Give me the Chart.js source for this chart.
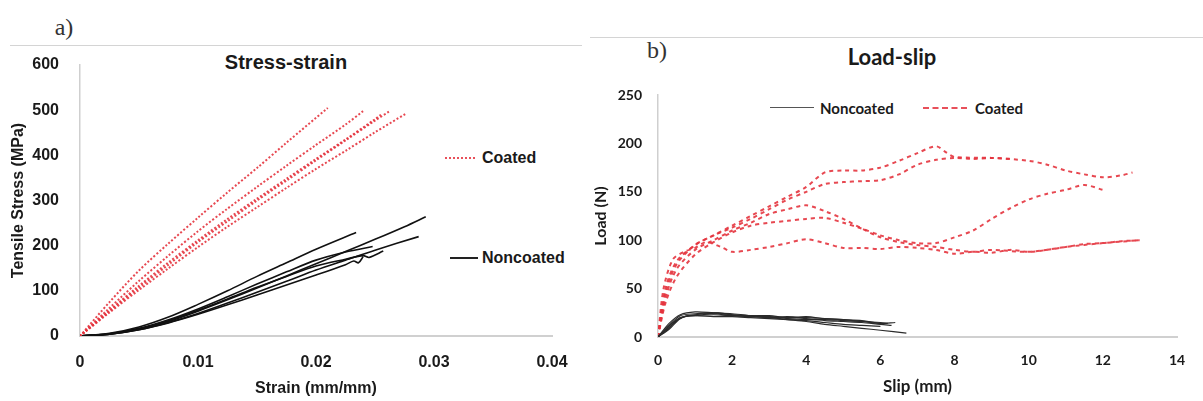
<!DOCTYPE html>
<html>
<head>
<meta charset="utf-8">
<script src="https://cdn.jsdelivr.net/npm/chart.js@4.4.0/dist/chart.umd.min.js"></script>
<style>
  body { margin: 0; background: #fff; width: 1203px; height: 401px; position: relative; overflow: hidden; }
  canvas { position: absolute; top: 0; }
  #stressCanvas { left: 0; }
  #slipCanvas { left: 590px; }
  .txt { position: absolute; white-space: nowrap; color: #1a1a1a; line-height: 1; }
  .c { transform: translate(-50%, -50%); }
  .l { transform: translateY(-50%); }
  .panel { font-family: "Liberation Serif", serif; font-size: 24px; color: #333; }
  .arial { font-family: "Liberation Sans", Arial, sans-serif; font-weight: bold; }
  .lato { font-family: Lato, sans-serif; font-weight: bold; }
  .rule { position: absolute; height: 1px; background: #d4d4d4; }
  .sample { position: absolute; height: 0; }
</style>
</head>
<body>
<div class="rule" style="left:10px; top:45px; width:572px;"></div>
<div class="rule" style="left:590px; top:37px; width:613px;"></div>

<div class="txt c panel" style="left:64px; top:27px;">a)</div>
<div class="txt c panel" style="left:657px; top:50px;">b)</div>

<div class="txt c arial" style="left:286px; top:62px; font-size:20px;">Stress-strain</div>
<div class="txt c lato" style="left:892px; top:57px; font-size:22px;">Load-slip</div>

<!-- legend, stress-strain -->
<div class="sample" style="left:445px; top:157px; width:30px; border-top:2px dotted #e8505a;"></div>
<div class="txt l arial" style="left:482px; top:158px; font-size:16px;">Coated</div>
<div class="sample" style="left:450px; top:257px; width:28px; border-top:2px solid #222;"></div>
<div class="txt l arial" style="left:482px; top:258px; font-size:16px;">Noncoated</div>

<!-- legend, load-slip -->
<div class="sample" style="left:770px; top:107px; width:44px; border-top:1.5px solid #555;"></div>
<div class="txt l lato" style="left:820px; top:108px; font-size:15px;">Noncoated</div>
<div class="sample" style="left:923px; top:107px; width:44px; border-top:2px dashed #e8505a;"></div>
<div class="txt l lato" style="left:975px; top:108px; font-size:15px;">Coated</div>

<canvas id="stressCanvas" width="590" height="401"></canvas>
<canvas id="slipCanvas" width="613" height="401"></canvas>

<script>
// ---- stress-strain: coated specimens ----
const coatedStrain1 = [0, 0.0025, 0.005, 0.0075, 0.01, 0.0125, 0.015, 0.0175, 0.021];
const coatedStress1 = [0, 75, 145, 205, 262, 318, 372, 428, 505];
const coatedStrain2 = [0, 0.0025, 0.005, 0.0075, 0.01, 0.0125, 0.015, 0.0175, 0.02, 0.0225, 0.024];
const coatedStress2 = [0, 62, 122, 178, 232, 282, 330, 377, 423, 468, 498];
const coatedStrain3 = [0, 0.0025, 0.005, 0.0075, 0.01, 0.0125, 0.015, 0.0175, 0.02, 0.0225, 0.025, 0.0255];
const coatedStress3 = [0, 57, 111, 163, 212, 259, 304, 348, 392, 435, 480, 490];
const coatedStrain4 = [0, 0.0025, 0.005, 0.0075, 0.01, 0.0125, 0.015, 0.0175, 0.02, 0.0225, 0.025, 0.0262];
const coatedStress4 = [0, 55, 107, 158, 208, 254, 300, 344, 389, 433, 477, 497];
const coatedStrain5 = [0, 0.0025, 0.005, 0.0075, 0.01, 0.0125, 0.015, 0.0175, 0.02, 0.0225, 0.025, 0.0276];
const coatedStress5 = [0, 52, 102, 150, 197, 242, 285, 328, 370, 410, 451, 492];

// ---- stress-strain: noncoated specimens ----
const plainStrain1 = [0, 0.0025, 0.005, 0.0075, 0.01, 0.0125, 0.015, 0.0175, 0.02, 0.0225, 0.025, 0.0275, 0.0293];
const plainStress1 = [0, 4, 15, 32, 55, 80, 106, 133, 160, 187, 214, 242, 264];
const plainStrain2 = [0, 0.0025, 0.005, 0.0075, 0.01, 0.0125, 0.015, 0.0175, 0.02, 0.0234];
const plainStress2 = [0, 6, 20, 42, 70, 100, 132, 162, 192, 229];
const plainStrain3 = [0, 0.0025, 0.005, 0.0075, 0.01, 0.0125, 0.015, 0.0175, 0.02, 0.0225, 0.025, 0.0287];
const plainStress3 = [0, 4, 14, 30, 50, 73, 97, 121, 146, 168, 190, 220];
const plainStrain4 = [0, 0.0025, 0.005, 0.0075, 0.01, 0.0125, 0.015, 0.0175, 0.02, 0.0225, 0.0232, 0.0236, 0.024];
const plainStress4 = [0, 4, 14, 29, 48, 69, 91, 113, 135, 158, 166, 162, 176];
const plainStrain5 = [0, 0.0025, 0.005, 0.0075, 0.01, 0.0125, 0.015, 0.0175, 0.02, 0.0225, 0.024, 0.0245, 0.0257];
const plainStress5 = [0, 5, 16, 34, 57, 82, 108, 132, 155, 170, 178, 174, 188];
const plainStrain6 = [0, 0.0025, 0.005, 0.0075, 0.01, 0.0125, 0.015, 0.0175, 0.02, 0.0225, 0.0248];
const plainStress6 = [0, 5, 17, 36, 60, 87, 115, 142, 168, 186, 198];

const strainTicks = [0, 0.01, 0.02, 0.03, 0.04];
const stressTicks = [0, 100, 200, 300, 400, 500, 600];

// ---- load-slip: coated specimens ----
const coatedSlip1 = [0, 0.2, 0.5, 1, 1.5, 2, 2.5, 3, 3.5, 4, 4.5, 5, 5.5, 6, 6.5, 7, 7.5, 7.8, 8, 9, 10, 10.5, 11, 11.5, 12, 12.5, 12.8];
const coatedLoad1 = [0, 45, 75, 95, 105, 115, 125, 135, 145, 155, 170, 172, 172, 175, 182, 190, 197, 190, 186, 185, 182, 178, 172, 168, 165, 167, 170];
const coatedSlip2 = [0, 0.2, 0.5, 1, 1.5, 2, 2.5, 3, 3.5, 4, 4.5, 5, 5.5, 6, 6.5, 7, 7.5, 8, 8.5, 9, 9.5];
const coatedLoad2 = [0, 50, 78, 95, 105, 113, 122, 132, 142, 150, 158, 160, 161, 162, 168, 178, 183, 185, 184, 185, 184];
const coatedSlip3 = [0, 0.2, 0.5, 1, 1.5, 2, 2.5, 3, 3.5, 4, 4.5, 5, 5.5, 6, 6.5, 7, 7.5, 8, 8.5, 9, 10, 11, 12, 13];
const coatedLoad3 = [0, 40, 70, 90, 100, 110, 118, 127, 132, 136, 130, 122, 112, 103, 98, 95, 93, 90, 88, 90, 88, 93, 97, 100];
const coatedSlip4 = [0, 0.2, 0.5, 1, 1.5, 2, 2.5, 3, 3.5, 4, 4.5, 5, 5.5, 6, 6.5, 7, 7.5, 8, 8.5, 9, 9.5, 10, 10.5, 11, 11.5, 12];
const coatedLoad4 = [0, 35, 62, 85, 98, 108, 115, 118, 120, 122, 123, 118, 112, 105, 100, 97, 97, 103, 110, 122, 133, 142, 148, 152, 157, 152];
const coatedSlip5 = [0, 0.15, 0.4, 0.7, 1, 1.3, 1.7, 2, 2.5, 3, 3.5, 4, 4.5, 5, 5.5, 6, 6.5, 7, 7.5, 8, 8.5, 9, 9.5, 10, 10.5, 11, 11.5, 12, 12.5, 13];
const coatedLoad5 = [0, 50, 80, 88, 92, 98, 93, 88, 90, 93, 97, 101, 97, 92, 92, 91, 93, 92, 90, 86, 88, 87, 90, 88, 90, 93, 96, 97, 99, 100];

// ---- load-slip: noncoated specimens ----
const plainSlip1 = [0, 0.3, 0.6, 1, 1.5, 2, 2.5, 3, 3.5, 4, 4.5, 5, 5.5, 6, 6.2];
const plainLoad1 = [0, 12, 22, 24, 25, 23, 22, 21, 20, 20, 19, 18, 16, 15, 14];
const plainSlip2 = [0, 0.3, 0.6, 1, 1.5, 2, 2.5, 3, 3.5, 4, 4.5, 5, 5.5, 6, 6.7];
const plainLoad2 = [0, 10, 20, 22, 23, 22, 21, 20, 18, 16, 13, 11, 9, 7, 4];
const plainSlip3 = [0, 0.3, 0.6, 1, 1.5, 2, 2.5, 3, 3.5, 4, 4.5, 5, 5.5, 6, 6.3];
const plainLoad3 = [0, 14, 23, 26, 25, 24, 22, 20, 21, 19, 17, 16, 15, 13, 12];
const plainSlip4 = [0, 0.4, 0.7, 1, 1.5, 2, 2.5, 3, 3.5, 4, 4.5, 5, 5.5, 6];
const plainLoad4 = [0, 15, 21, 22, 21, 21, 20, 19, 18, 17, 15, 13, 12, 11];
const plainSlip5 = [0, 0.3, 0.6, 1, 1.5, 2, 2.5, 3, 3.5, 4, 4.5, 5, 5.5, 6, 6.4];
const plainLoad5 = [0, 8, 19, 23, 24, 22, 21, 21, 19, 18, 18, 17, 16, 14, 15];
const plainSlip6 = [0, 0.3, 0.5, 0.8, 1.2, 1.6, 2, 2.5, 3, 3.5, 4, 4.5, 5, 5.5, 6];
const plainLoad6 = [0, 9, 17, 22, 23, 25, 23, 22, 22, 20, 21, 19, 18, 17, 14];

const slipTicks = [0, 2, 4, 6, 8, 10, 12, 14];
const loadTicks = [0, 50, 100, 150, 200, 250];

function curve(xs, ys) {
  return xs.map((x, i) => ({ x: x, y: ys[i] }));
}

function coatedSet(xs, ys, dash) {
  return {
    data: curve(xs, ys),
    borderColor: 'rgba(228, 52, 62, 0.9)',
    borderWidth: 2,
    borderDash: dash,
    pointRadius: 0,
    tension: 0.3,
    fill: false
  };
}

function plainSet(xs, ys, color, width) {
  return {
    data: curve(xs, ys),
    borderColor: color,
    borderWidth: width,
    pointRadius: 0,
    tension: 0.3,
    fill: false
  };
}

// fixed axis sizes so the plot box lands in the same spot every time
function axisBox(size) {
  return scale => {
    if (scale.isHorizontal()) scale.height = size;
    else scale.width = size;
  };
}

const textColor = '#1a1a1a';
const axisLine = { display: true, color: '#d0d0d0', width: 2 };

const arialBold = s => ({ family: 'Liberation Sans', weight: 'bold', size: s });
const latoBold = s => ({ family: 'Lato', weight: 'bold', size: s });

new Chart(document.getElementById('stressCanvas'), {
  type: 'line',
  data: {
    datasets: [
      coatedSet(coatedStrain1, coatedStress1, [2, 2]),
      coatedSet(coatedStrain2, coatedStress2, [2, 2]),
      coatedSet(coatedStrain3, coatedStress3, [2, 2]),
      coatedSet(coatedStrain4, coatedStress4, [2, 2]),
      coatedSet(coatedStrain5, coatedStress5, [2, 2]),
      plainSet(plainStrain1, plainStress1, '#111', 1.6),
      plainSet(plainStrain2, plainStress2, '#111', 1.6),
      plainSet(plainStrain3, plainStress3, '#111', 1.6),
      plainSet(plainStrain4, plainStress4, '#111', 1.6),
      plainSet(plainStrain5, plainStress5, '#111', 1.6),
      plainSet(plainStrain6, plainStress6, '#111', 1.6)
    ]
  },
  options: {
    responsive: false,
    animation: false,
    layout: { padding: { left: 0, top: 65, right: 38, bottom: 0 } },
    plugins: { legend: { display: false }, tooltip: { enabled: false } },
    scales: {
      x: {
        type: 'linear',
        min: strainTicks[0],
        max: strainTicks[strainTicks.length - 1],
        afterFit: axisBox(65),
        afterBuildTicks: s => { s.ticks = strainTicks.map(v => ({ value: v })); },
        grid: { display: false, drawTicks: false },
        border: axisLine,
        ticks: { color: textColor, font: arialBold(16), padding: 17, maxRotation: 0 },
        title: { display: true, text: 'Strain (mm/mm)', color: textColor, font: arialBold(16), padding: { top: 3, bottom: 3 } }
      },
      y: {
        min: stressTicks[0],
        max: stressTicks[stressTicks.length - 1],
        afterFit: axisBox(80),
        afterBuildTicks: s => { s.ticks = stressTicks.map(v => ({ value: v })); },
        grid: { display: false, drawTicks: false },
        border: { display: true, color: '#cfcfcf', width: 1.5 },
        ticks: { color: textColor, font: arialBold(16), padding: 21 },
        title: { display: true, text: 'Tensile Stress (MPa)', color: textColor, font: arialBold(16), padding: { top: 9, bottom: 9 } }
      }
    }
  }
});

new Chart(document.getElementById('slipCanvas'), {
  type: 'line',
  data: {
    datasets: [
      plainSet(plainSlip1, plainLoad1, '#2b2b2b', 1.2),
      plainSet(plainSlip2, plainLoad2, '#2b2b2b', 1.2),
      plainSet(plainSlip3, plainLoad3, '#2b2b2b', 1.2),
      plainSet(plainSlip4, plainLoad4, '#2b2b2b', 1.2),
      plainSet(plainSlip5, plainLoad5, '#2b2b2b', 1.2),
      plainSet(plainSlip6, plainLoad6, '#2b2b2b', 1.2),
      coatedSet(coatedSlip1, coatedLoad1, [4, 4]),
      coatedSet(coatedSlip2, coatedLoad2, [4, 4]),
      coatedSet(coatedSlip3, coatedLoad3, [4, 4]),
      coatedSet(coatedSlip4, coatedLoad4, [4, 4]),
      coatedSet(coatedSlip5, coatedLoad5, [4, 4])
    ]
  },
  options: {
    responsive: false,
    animation: false,
    layout: { padding: { left: 0, top: 95, right: 26, bottom: 0 } },
    plugins: { legend: { display: false }, tooltip: { enabled: false } },
    scales: {
      x: {
        type: 'linear',
        min: slipTicks[0],
        max: slipTicks[slipTicks.length - 1],
        afterFit: axisBox(64),
        afterBuildTicks: s => { s.ticks = slipTicks.map(v => ({ value: v })); },
        grid: { display: false, drawTicks: false },
        border: axisLine,
        ticks: { color: textColor, font: latoBold(14), padding: 15, maxRotation: 0 },
        title: { display: true, text: 'Slip (mm)', color: textColor, font: latoBold(17), padding: { top: 4, bottom: 4 } }
      },
      y: {
        min: loadTicks[0],
        max: loadTicks[loadTicks.length - 1],
        afterFit: axisBox(68),
        afterBuildTicks: s => { s.ticks = loadTicks.map(v => ({ value: v })); },
        grid: { display: false, drawTicks: false },
        border: { display: true, color: '#cfcfcf', width: 1.5 },
        ticks: { color: textColor, font: latoBold(14), padding: 16 },
        title: { display: true, text: 'Load (N)', color: textColor, font: latoBold(16), padding: { top: 1, bottom: 1 } }
      }
    }
  }
});
</script>
</body>
</html>
